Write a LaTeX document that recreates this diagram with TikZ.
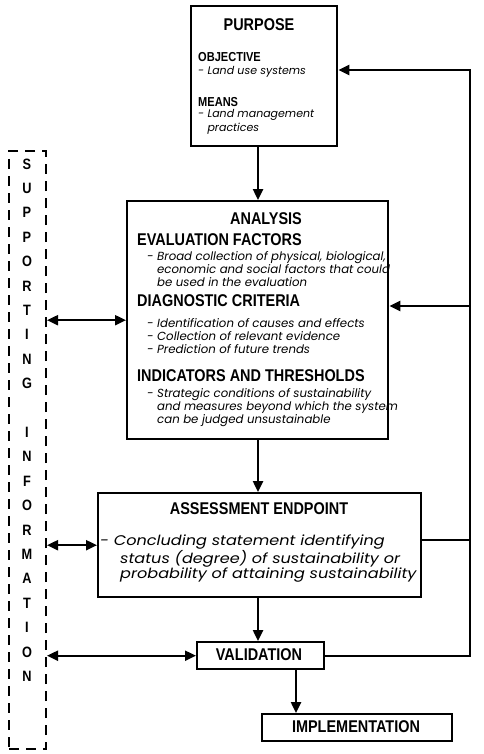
\documentclass[tikz,border=0pt]{standalone}
\usepackage{fontspec}
\setmainfont{Liberation Sans}
\newfontfamily\headfont[FakeStretch=0.85]{Liberation Sans}
\newfontfamily\bodyfont{Poppins}
\newfontfamily\wideface[FakeStretch=1.15]{Poppins}
\usetikzlibrary{arrows.meta}

\tikzset{
  box/.style={draw, line width=2.4pt, anchor=north west, inner sep=0pt},
  title/.style={font=\headfont\bfseries\fontsize{17}{17}\selectfont, anchor=base, inner sep=0pt},
  head/.style={font=\headfont\bfseries\fontsize{17}{17}\selectfont, anchor=base west, inner sep=0pt},
  subhead/.style={font=\headfont\bfseries\fontsize{13}{13}\selectfont, anchor=base west, inner sep=0pt},
  note/.style={font=\bodyfont\itshape\fontsize{11.75}{13}\selectfont, anchor=north west, align=left, inner sep=0pt},
  smallnote/.style={note, font=\bodyfont\itshape\fontsize{11}{14}\selectfont},
  letter/.style={font=\headfont\bfseries\fontsize{15}{15}\selectfont, inner sep=0pt},
  flow/.style={line width=2.4pt, -{Triangle[length=11pt,width=10pt]}},
  link/.style={line width=2pt, {Triangle[length=11pt,width=10pt]}-{Triangle[length=11pt,width=10pt]}},
  back/.style={line width=2pt}
}

\begin{document}
\begin{tikzpicture}[x=1pt,y=-1pt]
    \useasboundingbox (0,0) rectangle (483,754);

    % boxes
    \node[box, minimum width=146pt, minimum height=140pt] (purpose) at (190,5) {};
    \node[box, minimum width=261pt, minimum height=238pt] (analysis) at (126,200) {};
    \node[box, minimum width=323pt, minimum height=104pt] (assess) at (97,492) {};
    \node[box, minimum width=127pt, minimum height=27pt] (valid) at (196,641) {};
    \node[box, minimum width=190pt, minimum height=27pt] (impl) at (261,713) {};
    \node[box, line width=2pt, dash pattern=on 10pt off 7pt, minimum width=37pt, minimum height=598pt] (support) at (8,150) {};

    % purpose
    \node[title] (purposeT) at (259,31) {PURPOSE};
    \node[subhead] (objT) at (198,62) {OBJECTIVE};
    \node[smallnote] (objN) at (198,66) {- Land use systems};
    \node[subhead] (meansT) at (198,107) {MEANS};
    \node[smallnote] (meansN) at (198,109)
        {- Land management\\\phantom{- }practices};

    % analysis
    \node[title] (analysisT) at (266,224) {ANALYSIS};
    \node[head] (evalT) at (137,245) {EVALUATION FACTORS};
    \node[note] (evalN) at (147,251)
        {- Broad collection of physical, biological,\\
         \phantom{- }economic and social factors that could\\
         \phantom{- }be used in the evaluation};
    \node[head] (diagT) at (137,306) {DIAGNOSTIC CRITERIA};
    \node[note] (diagN) at (147,318)
        {- Identification of causes and effects\\
         - Collection of relevant evidence\\
         - Prediction of future trends};
    \node[head] (indT) at (137,381) {INDICATORS AND THRESHOLDS};
    \node[note] (indN) at (147,388)
        {- Strategic conditions of sustainability\\
         \phantom{- }and measures beyond which the system\\
         \phantom{- }can be judged unsustainable};

    % assessment endpoint
    \node[title] (assessT) at (259,514) {ASSESSMENT ENDPOINT};
    \node[note, font=\wideface\itshape\fontsize{14}{15}\selectfont] (assessN) at (100,535)
        {- Concluding statement identifying\\
         \hspace*{20pt}status (degree) of sustainability or\\
         \hspace*{20pt}probability of attaining sustainability};

    \node[title] (validT) at (259,660) {VALIDATION};
    \node[title] (implT) at (356,732) {IMPLEMENTATION};

    % vertical lettering
    \foreach \ch [count=\i from 0] in {S,U,P,P,O,R,T,I,N,G}
        \node[letter] (up\i) at (27,{164+24.4*\i}) {\ch};
    \foreach \ch [count=\i from 11] in {I,N,F,O,R,M,A,T,I,O,N}
        \node[letter] (lo\i) at (27,{164+24.4*\i}) {\ch};

    % main flow
    \coordinate (spine) at (258,0);
    \coordinate (drop) at (296,0);
    \draw[flow] (purpose.south -| spine) -- (analysis.north -| spine);
    \draw[flow] (analysis.south -| spine) -- (assess.north -| spine);
    \draw[flow] (assess.south -| spine) -- (valid.north -| spine);
    \draw[flow] (valid.south -| drop) -- (impl.north -| drop);

    % feedback loop
    \coordinate (loop) at (470,70);
    \coordinate (loopA) at (470,306);
    \coordinate (loopB) at (470,540);
    \draw[flow] (valid.east) -| (loop) -- (loop -| purpose.east);
    \draw[flow] (loopA) -- (loopA -| analysis.east);
    \draw[back] (loopB -| assess.east) -- (loopB);

    % supporting information links
    \draw[link] (support.east |- analysis.west) -- (analysis.west);
    \draw[link] (support.east |- assess.west) -- (assess.west);
    \draw[link] (support.east |- valid.west) -- (valid.west);
\end{tikzpicture}
\end{document}
